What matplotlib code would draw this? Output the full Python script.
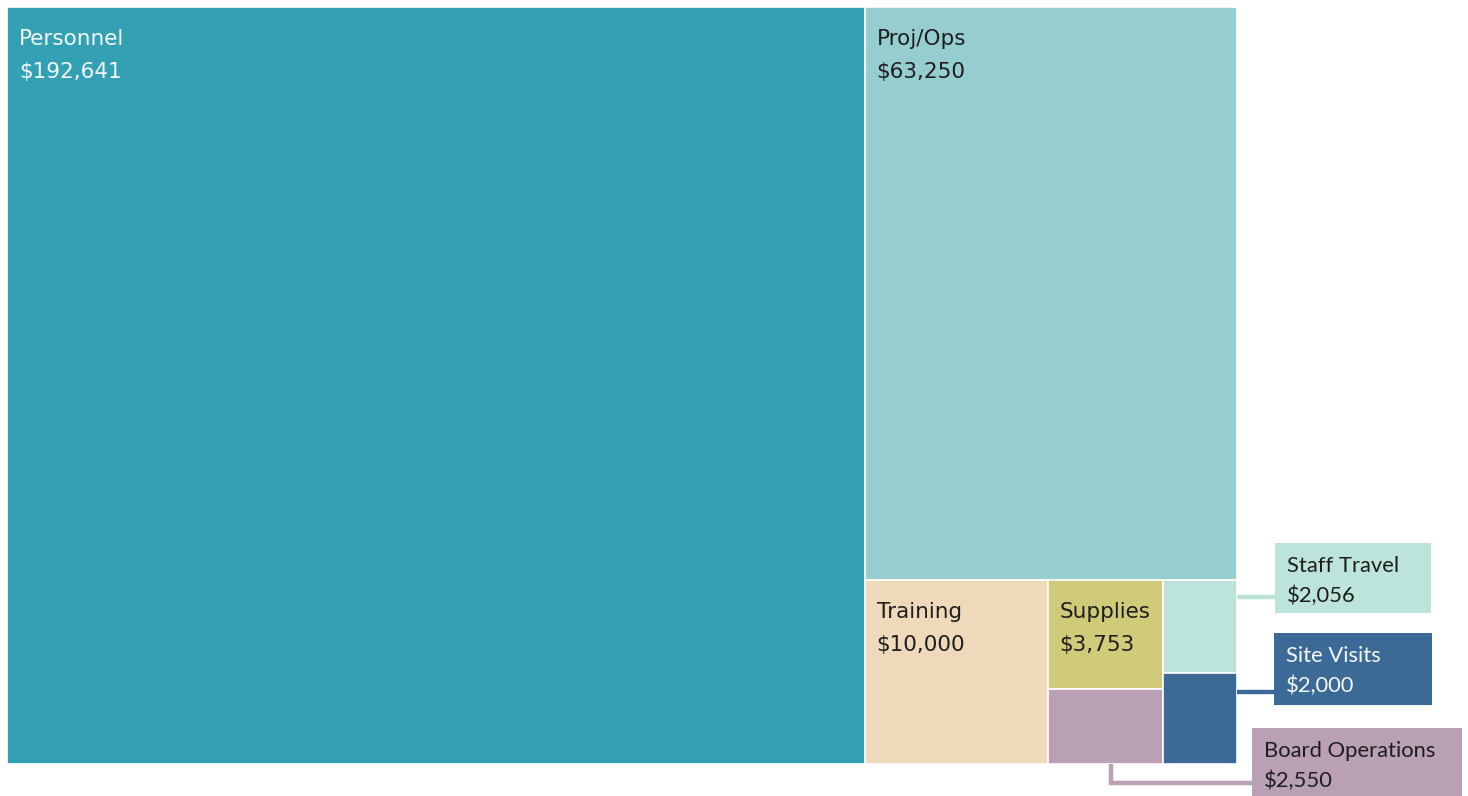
import matplotlib.pyplot as plt
from matplotlib.patches import Rectangle

# budget categories and amounts
labels = ["Personnel", "Proj/Ops", "Training", "Supplies", "Board Operations",
          "Staff Travel", "Site Visits"]
values = [192641, 63250, 10000, 3753, 2550, 2056, 2000]
colors = ["#33a0b4", "#96cecf", "#eed9bb", "#cfcb78", "#b9a0b4", "#bde4da", "#3c6a97"]
text_colors = ["#f4f8f8", "#1e1e1e", "#1e1e1e", "#1e1e1e", "#1e1e1e", "#1e1e1e", "#f4f8f8"]
amounts = dict(zip(labels, values))

W, H = 1468, 796
x0, y0, x1, y1 = 7, 7, 1237, 764


def split(x, y, w, h, vals, horizontal):
    # slice a rectangle into pieces proportional to vals
    tot = sum(vals)
    out = []
    for v in vals:
        if horizontal:
            ww = w * v / tot
            out.append((x, y, ww, h))
            x += ww
        else:
            hh = h * v / tot
            out.append((x, y, w, hh))
            y += hh
    return out


rects = {}
A = amounts
rest = sum(values[1:])
col1, col2 = split(x0, y0, x1 - x0, y1 - y0, [A["Personnel"], rest], True)
rects["Personnel"] = col1
top, bottom = split(*col2, [A["Proj/Ops"], rest - A["Proj/Ops"]], False)
rects["Proj/Ops"] = top
g1 = A["Supplies"] + A["Board Operations"]
g2 = A["Staff Travel"] + A["Site Visits"]
tr, sb, ts = split(*bottom, [A["Training"], g1, g2], True)
rects["Training"] = tr
rects["Supplies"], rects["Board Operations"] = split(*sb, [A["Supplies"], A["Board Operations"]], False)
rects["Staff Travel"], rects["Site Visits"] = split(*ts, [A["Staff Travel"], A["Site Visits"]], False)

fig = plt.figure(figsize=(W / 100, H / 100), dpi=100)
ax = fig.add_axes([0, 0, 1, 1])
ax.set_xlim(0, W)
ax.set_ylim(H, 0)
ax.axis("off")

inside = ["Personnel", "Proj/Ops", "Training", "Supplies"]
for lab, col, tc in zip(labels, colors, text_colors):
    x, y, w, h = rects[lab]
    ax.add_patch(Rectangle((x, y), w, h, facecolor=col, edgecolor="white", linewidth=1.2))
    if lab in inside:
        ax.text(x + 12, y + 38, lab, color=tc, fontsize=15.5, family="DejaVu Sans",
                va="baseline", ha="left")
        ax.text(x + 12, y + 71, "${:,}".format(amounts[lab]), color=tc, fontsize=15.5,
                family="DejaVu Sans", va="baseline", ha="left")

# callout boxes for the small cells
callouts = {
    "Staff Travel": (1275, 543, 156, 70),
    "Site Visits": (1274, 633, 158, 72),
    "Board Operations": (1252, 728, 210, 80),
}
for lab, (bx, by, bw, bh) in callouts.items():
    i = labels.index(lab)
    col, tc = colors[i], text_colors[i]
    x, y, w, h = rects[lab]
    if lab == "Board Operations":
        cx = x + w * 0.55
        ax.plot([cx, cx, bx], [y + h, 783, 783], color=col, lw=3.2, solid_capstyle="butt",
                solid_joinstyle="miter", zorder=1)
    else:
        ly = by + bh * 0.77 if lab == "Staff Travel" else by + bh * 0.82
        ax.plot([x + w, bx], [ly, ly], color=col, lw=3.2, solid_capstyle="butt", zorder=1)
    ax.add_patch(Rectangle((bx, by), bw, bh, facecolor=col, edgecolor="none", zorder=2))
    ax.text(bx + 12, by + 29, lab, color=tc, fontsize=15.8, family="Lato",
            va="baseline", ha="left", zorder=3)
    ax.text(bx + 12, by + 59, "${:,}".format(amounts[lab]), color=tc, fontsize=15.8,
            family="Lato", va="baseline", ha="left", zorder=3)

plt.savefig("out.png", dpi=100)
